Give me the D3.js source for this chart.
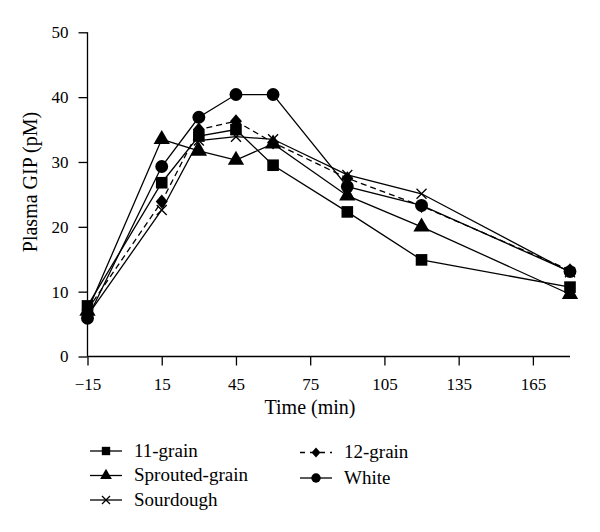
<!DOCTYPE html>
<html><head><meta charset="utf-8">
<script src="https://cdn.jsdelivr.net/npm/d3@7"></script>
<style>body{margin:0;background:#fff}svg text{font-family:"Liberation Serif","DejaVu Serif",serif;fill:#000}</style>
</head><body><svg id="c" width="600" height="532"></svg>
<script>
const times = [-15, 15, 30, 45, 60, 90, 120, 180];
const grain11 = [7.8, 26.8, 34.0, 35.0, 29.5, 22.3, 14.9, 10.7];
const sprouted = [7.0, 33.5, 31.7, 30.3, 32.8, 24.8, 20.0, 9.6];
const sourdough = [6.3, 22.6, 33.3, 33.9, 33.5, 28.0, 25.1, 13.0];
const grain12 = [7.2, 23.9, 35.0, 36.3, 33.0, 27.5, 23.2, 13.3];
const white = [5.9, 29.3, 36.9, 40.4, 40.4, 26.2, 23.3, 13.1];
const xTicks = [-15, 15, 45, 75, 105, 135, 165];
const yTicks = [0, 10, 20, 30, 40, 50];
const seriesNames = ["11-grain", "Sprouted-grain", "Sourdough", "12-grain", "White"];

const series = [
  {name: seriesNames[0], values: grain11, sym: "square", dash: null},
  {name: seriesNames[1], values: sprouted, sym: "triangle", dash: null},
  {name: seriesNames[2], values: sourdough, sym: "cross", dash: null},
  {name: seriesNames[3], values: grain12, sym: "diamond", dash: "6,4"},
  {name: seriesNames[4], values: white, sym: "circle", dash: null}
];

const svg = d3.select("#c");
const x = d3.scaleLinear().domain([-15, 180]).range([87.5, 570]);
const y = d3.scaleLinear().domain([0, 50]).range([356.5, 32.3]);

function symPath(sym) {
  if (sym === "square") return d3.symbol(d3.symbolSquare, 135)();
  if (sym === "triangle") return d3.symbol(d3.symbolTriangle, 115)();
  if (sym === "circle") return d3.symbol(d3.symbolCircle, 130)();
  if (sym === "diamond") return "M0,-7L6,0L0,7L-6,0Z";
  return null;
}
function drawSym(g, sym, cx, cy) {
  if (sym === "cross") {
    g.append("path").attr("d", `M${cx-5},${cy-5}L${cx+5},${cy+5}M${cx-5},${cy+5}L${cx+5},${cy-5}`)
      .attr("stroke", "#000").attr("stroke-width", 1.3).attr("fill", "none");
  } else {
    g.append("path").attr("d", symPath(sym)).attr("transform", `translate(${cx},${cy})`).attr("fill", "#000");
  }
}

// axes
const xAxis = svg.append("g").attr("transform", `translate(0,${y(0)})`)
  .call(d3.axisBottom(x).tickValues(xTicks).tickSize(9).tickPadding(12)
    .tickFormat(d => d < 0 ? "\u2212" + Math.abs(d) : d));
xAxis.select(".domain").attr("d", `M${x(-15)},0H${x(180)}`);
const yAxis = svg.append("g").attr("transform", `translate(${x(-15)},0)`)
  .call(d3.axisLeft(y).tickValues(yTicks).tickSize(9).tickPadding(10));
yAxis.select(".domain").attr("d", `M0,${y(0)}V${y(50)}`);
svg.selectAll(".tick text").attr("font-size", 17).attr("font-family", "Liberation Serif");
svg.selectAll(".domain, .tick line").attr("stroke", "#000").attr("stroke-width", 1.3);

svg.append("text").attr("x", 310).attr("y", 414).attr("text-anchor", "middle").attr("font-size", 20).text("Time (min)");
svg.append("text").attr("transform", `translate(37,${182}) rotate(-90)`).attr("text-anchor", "middle").attr("font-size", 20).text("Plasma GIP (pM)");

const line = d3.line().x((d, i) => x(times[i])).y(d => y(d));
const g = svg.append("g");
series.forEach(s => {
  g.append("path").datum(s.values).attr("d", line).attr("fill", "none").attr("stroke", "#000")
    .attr("stroke-width", 1.3).attr("stroke-dasharray", s.dash);
});
series.forEach(s => {
  s.values.forEach((v, i) => drawSym(g, s.sym, x(times[i]), y(v)));
});

// legend
const legPos = [[90, 451], [90, 475.5], [90, 500], [300, 452.5], [300, 478]];
series.forEach((s, i) => {
  const [lx, ly] = legPos[i];
  const lg = svg.append("g");
  lg.append("line").attr("x1", lx).attr("x2", lx + 32).attr("y1", ly).attr("y2", ly)
    .attr("stroke", "#000").attr("stroke-width", 1.3).attr("stroke-dasharray", s.dash ? "5,5" : null);
  if (s.sym === "cross") {
    lg.append("path").attr("d", `M${lx+12},${ly-4}L${lx+20},${ly+4}M${lx+12},${ly+4}L${lx+20},${ly-4}`)
      .attr("stroke", "#000").attr("stroke-width", 1.3);
  } else {
    const sz = {square: 70, triangle: 60, circle: 70}[s.sym];
    const p = s.sym === "diamond" ? "M0,-5L4.5,0L0,5L-4.5,0Z" : d3.symbol({square: d3.symbolSquare, triangle: d3.symbolTriangle, circle: d3.symbolCircle}[s.sym], sz)();
    lg.append("path").attr("d", p).attr("transform", `translate(${lx+16},${ly})`).attr("fill", "#000");
  }
  lg.append("text").attr("x", lx + 44).attr("y", ly + 5.5).attr("font-size", 19).text(s.name);
});
</script></body></html>
